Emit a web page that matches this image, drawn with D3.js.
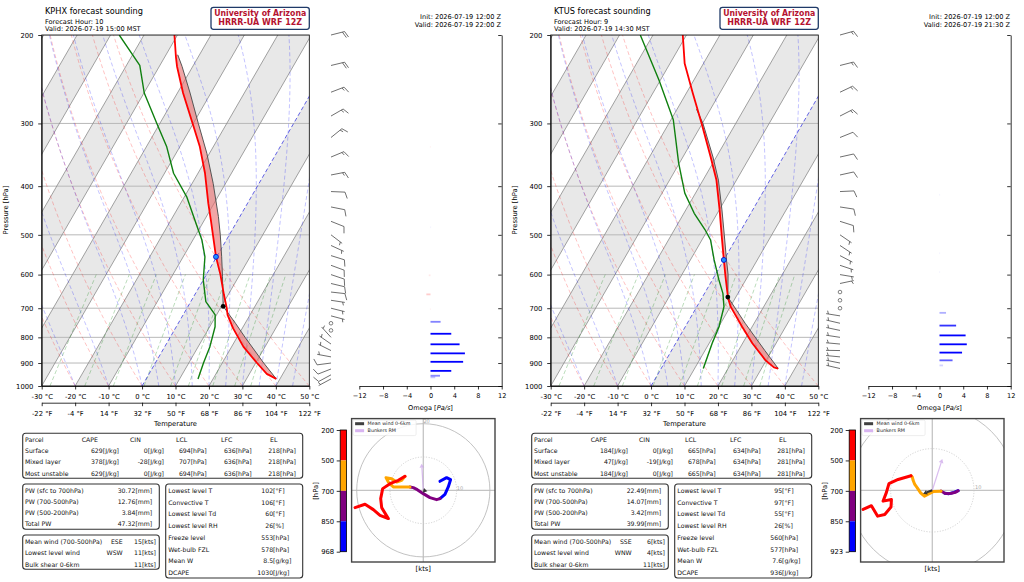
<!DOCTYPE html>
<html>
<head>
<meta charset="utf-8">
<script src="https://cdn.jsdelivr.net/npm/d3@7"></script>
<style>
  body { margin: 0; background: #fff; }
  svg { display: block; }
  text { font-family: "DejaVu Sans", sans-serif; }
</style>
</head>
<body>
<div id="chart"></div>
<script>
// ---------------- KPHX (left panel) ----------------
const phxTitle = "KPHX forecast sounding";
const phxHour = "Forecast Hour: 10";
const phxValidLocal = "Valid: 2026-07-19 15:00 MST";
const phxInit = "Init: 2026-07-19 12:00 Z";
const phxValidZ = "Valid: 2026-07-19 22:00 Z";

const phxPres = [968, 946, 900, 835, 768, 722, 700, 659, 600, 553, 500, 467, 433, 377, 334, 300, 261, 231, 221, 200];
const phxTemp = [38.9, 35.2, 30.4, 23.5, 17.3, 13.3, 11.9, 8.8, 4.2, -0.2, -4.9, -8.1, -11.7, -17.9, -24.0, -30.2, -38.3, -44.7, -46.7, -50.9];
const phxDewP = [968, 900, 835, 762, 722, 679, 615, 553, 512, 485, 420, 377, 334, 300, 261, 230, 200];
const phxDewT = [15.5, 14.4, 13.5, 11.6, 9.6, 4.5, 0.0, -3.5, -7.3, -10.6, -19.3, -27.3, -33.9, -40.9, -49.9, -56.0, -67.4];
const phxParcelP = [968, 900, 800, 750, 694, 606, 553, 500, 460, 395, 344, 300, 261, 231, 219];
const phxParcelT = [38.9, 32.4, 22.4, 17.1, 10.5, 5.2, 1.5, -2.7, -6.4, -13.7, -20.8, -28.5, -36.2, -43.2, -46.5];
const phxLcl = [694, 10.5];
const phxFreeze = [553, -0.2];

const phxWindP = [968, 950, 925, 900, 875, 850, 825, 800, 775, 750, 725, 700, 675, 650, 625, 600, 575, 550, 525, 500, 470, 440, 410, 380, 350, 320, 290, 260, 230, 200];
const phxU = [5.0, 7.0, 8.2, 7.5, 6.5, 5.0, 4.0, 2.0, 0.0, -1.8, -3.0, -4.0, -6.5, -9.0, -10.5, -11.2, -9.5, -8.0, -6.5, -5.5, -7.5, -10.0, -12.2, -12.8, -12.5, -10.5, -13.0, -15.0, -17.5, -20.5];
const phxV = [2.7, 3.8, 3.2, 1.0, -1.2, -2.5, -2.8, -2.2, -1.0, 0.2, 0.8, 1.0, 1.0, 1.0, 2.5, 3.8, 3.5, 2.5, 3.0, 4.2, 3.0, 2.0, 0.5, -2.5, -5.2, -8.5, -7.5, -5.8, -4.2, -5.2];
const phxMeanWind = [1.2, -0.3];
const phxBunkers = [-0.5, 8.0];
const phxHodoTicks = ["200", "500", "700", "850", "968"];

const phxOmegaP = [334, 483, 602, 657, 703, 745, 787, 826, 861, 895, 933, 954, 961];
const phxOmega = [-0.1, 0.1, -0.3, -0.7, -0.1, 1.7, 3.5, 4.9, 5.8, 5.5, 3.5, 1.6, 0.8];

const phxParcelRows = [
  ["Surface", "629[J/kg]", "0[J/kg]", "694[hPa]", "636[hPa]", "218[hPa]"],
  ["Mixed layer", "378[J/kg]", "-28[J/kg]", "707[hPa]", "636[hPa]", "218[hPa]"],
  ["Most unstable", "629[J/kg]", "0[J/kg]", "694[hPa]", "636[hPa]", "218[hPa]"]
];
const phxPwRows = [["PW (sfc to 700hPa)", "30.72[mm]"], ["PW (700-500hPa)", "12.76[mm]"], ["PW (500-200hPa)", "3.84[mm]"], ["Total PW", "47.32[mm]"]];
const phxWindRows = [["Mean wind (700-500hPa)", "ESE", "15[kts]"], ["Lowest level wind", "WSW", "11[kts]"], ["Bulk shear 0-6km", "", "11[kts]"]];
const phxIndexRows = [
  ["Lowest level T", "102", "[°F]"], ["Convective T", "106", "[°F]"], ["Lowest level Td", "60", "[°F]"],
  ["Lowest level RH", "26", "[%]"], ["Freeze level", "553", "[hPa]"], ["Wet-bulb FZL", "578", "[hPa]"],
  ["Mean W", "8.5", "[g/kg]"], ["DCAPE", "1030", "[J/kg]"]
];

// ---------------- KTUS (right panel) ----------------
const tusTitle = "KTUS forecast sounding";
const tusHour = "Forecast Hour: 9";
const tusValidLocal = "Valid: 2026-07-19 14:30 MST";
const tusInit = "Init: 2026-07-19 12:00 Z";
const tusValidZ = "Valid: 2026-07-19 21:30 Z";

const tusPres = [923, 918, 888, 822, 762, 695, 669, 606, 561, 500, 446, 389, 350, 300, 261, 228, 200];
const tusTemp = [35.0, 33.5, 29.7, 22.9, 17.0, 10.1, 7.9, 3.4, 0.0, -5.0, -9.9, -16.0, -21.7, -30.2, -38.1, -45.6, -51.1];
const tusDewP = [923, 822, 762, 695, 654, 615, 561, 512, 488, 453, 413, 360, 295, 246, 200];
const tusDewT = [12.6, 10.9, 10.1, 8.1, 5.5, 2.0, -2.9, -7.4, -10.9, -16.9, -23.2, -30.2, -39.3, -50.4, -63.8];
const tusParcelP = [923, 850, 750, 665, 600, 561, 500, 446, 389, 350, 300, 281];
const tusParcelT = [35.0, 27.9, 17.3, 7.6, 3.8, 0.8, -4.2, -9.2, -15.4, -21.0, -29.8, -34.2];
const tusLcl = [665, 7.6];
const tusFreeze = [561, 0.0];

const tusWindP = [923, 900, 875, 850, 825, 800, 775, 750, 725, 700, 675, 650, 625, 600, 575, 550, 525, 500, 470, 440, 410, 380, 350, 320, 290, 260, 230, 200];
const tusU = [3.0, 4.0, 5.2, 6.2, 5.5, 4.6, 3.8, 3.0, 2.5, 2.1, 0.2, -1.9, -2.8, -3.6, -4.2, -4.6, -4.8, -5.1, -8.2, -10.4, -11.0, -11.8, -9.8, -9.9, -11.4, -13.1, -14.6, -16.6];
const tusV = [-0.7, -0.8, -0.5, -0.1, -0.5, -0.7, -0.8, -0.7, -0.4, -0.2, -0.3, -1.4, -0.6, 0.6, 1.4, 2.4, 3.2, 3.5, 2.6, 1.6, -0.5, -2.6, -2.2, -4.0, -5.8, -6.2, -3.7, -4.6];
const tusMeanWind = [-2.2, -0.8];
const tusBunkers = [2.4, 7.5];
const tusHodoTicks = ["200", "500", "700", "850", "923"];

const tusOmegaP = [416, 544, 593, 715, 758, 793, 826, 858, 889, 910];
const tusOmega = [0.1, 0.1, 0.1, 1.1, 2.8, 4.4, 4.6, 3.8, 2.2, 0.6];

const tusParcelRows = [
  ["Surface", "184[J/kg]", "0[J/kg]", "665[hPa]", "634[hPa]", "281[hPa]"],
  ["Mixed layer", "47[J/kg]", "-19[J/kg]", "678[hPa]", "634[hPa]", "281[hPa]"],
  ["Most unstable", "184[J/kg]", "0[J/kg]", "665[hPa]", "634[hPa]", "281[hPa]"]
];
const tusPwRows = [["PW (sfc to 700hPa)", "22.49[mm]"], ["PW (700-500hPa)", "14.07[mm]"], ["PW (500-200hPa)", "3.42[mm]"], ["Total PW", "39.99[mm]"]];
const tusWindRows = [["Mean wind (700-500hPa)", "SSE", "6[kts]"], ["Lowest level wind", "WNW", "4[kts]"], ["Bulk shear 0-6km", "", "11[kts]"]];
const tusIndexRows = [
  ["Lowest level T", "95", "[°F]"], ["Convective T", "97", "[°F]"], ["Lowest level Td", "55", "[°F]"],
  ["Lowest level RH", "26", "[%]"], ["Freeze level", "560", "[hPa]"], ["Wet-bulb FZL", "577", "[hPa]"],
  ["Mean W", "7.6", "[g/kg]"], ["DCAPE", "936", "[J/kg]"]
];

// shared labels
const parcelHeader = ["Parcel", "CAPE", "CIN", "LCL", "LFC", "EL"];
const hodoColors = ["#0000ff", "#800080", "#ffa500", "#ff0000"];
const logoLines = ["University of Arizona", "HRRR-UA WRF 12Z"];

const stations = [
  { dx: 0, title: phxTitle, hour: phxHour, validLocal: phxValidLocal, init: phxInit, validZ: phxValidZ,
    tP: phxPres, tT: phxTemp, dP: phxDewP, dT: phxDewT, parcelP: phxParcelP, parcelT: phxParcelT,
    lcl: phxLcl, freeze: phxFreeze, windP: phxWindP, u: phxU, v: phxV, meanWind: phxMeanWind,
    bunkers: phxBunkers, hodoTicks: phxHodoTicks, hodoScale: 3.33, omegaP: phxOmegaP, omega: phxOmega,
    parcelRows: phxParcelRows, pwRows: phxPwRows, windRows: phxWindRows, indexRows: phxIndexRows },
  { dx: 509, title: tusTitle, hour: tusHour, validLocal: tusValidLocal, init: tusInit, validZ: tusValidZ,
    tP: tusPres, tT: tusTemp, dP: tusDewP, dT: tusDewT, parcelP: tusParcelP, parcelT: tusParcelT,
    lcl: tusLcl, freeze: tusFreeze, windP: tusWindP, u: tusU, v: tusV, meanWind: tusMeanWind,
    bunkers: tusBunkers, hodoTicks: tusHodoTicks, hodoScale: 4.17, omegaP: tusOmegaP, omega: tusOmega,
    parcelRows: tusParcelRows, pwRows: tusPwRows, windRows: tusWindRows, indexRows: tusIndexRows }
];

// ---------------- helpers ----------------
const TAN30 = Math.tan(Math.PI / 6);
const MONO = "DejaVu Sans Mono";

// linear in log-pressure, ps ordered surface -> top
function interp(ps, vs, p) {
  for (let i = 0; i < ps.length - 1; i++) {
    if (p <= ps[i] && p >= ps[i + 1]) {
      const t = Math.log(ps[i] / p) / Math.log(ps[i] / ps[i + 1]);
      return vs[i] + t * (vs[i + 1] - vs[i]);
    }
  }
  return null;
}

// moist adiabat background lines (saturated lapse rate)
function dTdp(p, T) {
  const es = 6.112 * Math.exp(17.67 * (T - 273.15) / (T - 29.65));
  const rs = 0.6219569 * es / (p - es);
  const Lv = 2.50084e6, Rd = 287.04749;
  return (Rd * T + Lv * rs) / p / (1004.6662 + Lv * Lv * rs * 0.6219569 / (Rd * T * T));
}
function moistAdiabat(t0) {
  const pts = [];
  let T = t0 + 273.15;
  for (let p = 1000; p >= 195; p -= 5) {
    pts.push([p, T - 273.15]);
    const k1 = dTdp(p, T), k2 = dTdp(p - 2.5, T - 2.5 * k1);
    T -= 5 * k2;
  }
  return pts;
}
function mixingLine(w) {
  return d3.range(1000, 599, -10).map(p => {
    const e = p * w / (0.6219569 + w), l = Math.log(e / 6.112);
    return [p, 243.5 * l / (17.67 - l)];
  });
}

function styleAxis(sel, size) {
  sel.attr("font-family", "DejaVu Sans").attr("font-size", size || 6.8);
  sel.selectAll("line,path").attr("stroke-width", 0.8);
}

const svg = d3.select("#chart").append("svg").attr("width", 1024).attr("height", 582);
svg.append("rect").attr("width", 1024).attr("height", 582).attr("fill", "#fff");

stations.forEach(drawPanel);

function drawPanel(st) {
  const g = svg.append("g").attr("transform", `translate(${st.dx},0)`);
  const x = d3.scaleLinear().domain([-30, 50]).range([41.7, 309.3]);
  const y = d3.scaleLog().domain([1000, 200]).range([386, 35]);
  const sx = (T, p) => x(T) + (y(1000) - y(p)) * TAN30;
  const line = d3.line().x(d => sx(d[1], d[0])).y(d => y(d[0]));

  // ---- header ----
  g.append("text").attr("x", 45).attr("y", 11).attr("dominant-baseline", "central")
    .attr("font-size", 8.2).text(st.title);
  g.append("text").attr("x", 45).attr("y", 21.7).attr("dominant-baseline", "central")
    .attr("font-size", 6.6).text(st.hour);
  g.append("text").attr("x", 45).attr("y", 29.4).attr("dominant-baseline", "central")
    .attr("font-size", 6.6).text(st.validLocal);
  g.append("text").attr("x", 501).attr("y", 17).attr("text-anchor", "end").attr("dominant-baseline", "central")
    .attr("font-size", 6.6).text(st.init);
  g.append("text").attr("x", 501).attr("y", 25).attr("text-anchor", "end").attr("dominant-baseline", "central")
    .attr("font-size", 6.6).text(st.validZ);
  g.append("rect").attr("x", 211).attr("y", 7.3).attr("width", 98.3).attr("height", 22).attr("rx", 2.5)
    .attr("fill", "#fff").attr("stroke", "#1f3a68").attr("stroke-width", 1.3);
  logoLines.forEach((t, i) => {
    g.append("text").attr("x", 260.2).attr("y", 13.4 + i * 9).attr("text-anchor", "middle")
      .attr("dominant-baseline", "central").attr("font-family", "'Liberation Serif', 'DejaVu Serif', serif")
      .attr("font-weight", "bold").attr("font-size", 8.6).attr("fill", "#b5122f")
      .attr("textLength", i === 0 ? 92 : 84).attr("lengthAdjust", "spacingAndGlyphs").text(t);
  });

  // ---- skew-T background ----
  const clipId = "skewclip" + st.dx;
  g.append("clipPath").attr("id", clipId).append("rect")
    .attr("x", 41.7).attr("y", 35).attr("width", 267.6).attr("height", 351);
  const plot = g.append("g").attr("clip-path", `url(#${clipId})`);

  // shade every other 10-degree isotherm band
  for (let T = -140; T < 50; T += 20) {
    const pts = [[sx(T, 1000), y(1000)], [sx(T + 10, 1000), y(1000)], [sx(T + 10, 200), y(200)], [sx(T, 200), y(200)]];
    plot.append("polygon").attr("points", pts.join(" ")).attr("fill", "#e8e8e8");
  }
  // pressure grid
  d3.range(200, 1001, 100).forEach(p => {
    plot.append("line").attr("x1", 41.7).attr("x2", 309.3).attr("y1", y(p)).attr("y2", y(p))
      .attr("stroke", "#b8b8b8").attr("stroke-width", 1);
  });
  // isotherms
  for (let T = -130; T <= 50; T += 10) {
    if (T === 0) continue;
    plot.append("line").attr("x1", sx(T, 1000)).attr("y1", y(1000)).attr("x2", sx(T, 200)).attr("y2", y(200))
      .attr("stroke", "#8a8a8a").attr("stroke-width", 0.8);
  }
  // dry adiabats
  d3.range(-30, 51, 10).forEach(t0 => {
    const pts = d3.range(1000, 199, -10).map(p => [p, (t0 + 273.15) * Math.pow(p / 1000, 0.28571) - 273.15]);
    plot.append("path").attr("d", line(pts)).attr("fill", "none").attr("stroke", "red")
      .attr("stroke-opacity", 0.3).attr("stroke-width", 0.8).attr("stroke-dasharray", "4,2.5");
  });
  // moist adiabats
  [-30, -20, -10].concat(d3.range(0, 51, 5)).forEach(t0 => {
    plot.append("path").attr("d", line(moistAdiabat(t0))).attr("fill", "none").attr("stroke", "blue")
      .attr("stroke-opacity", 0.3).attr("stroke-width", 0.8).attr("stroke-dasharray", "4,2.5");
  });
  // mixing ratio lines
  [0.0004, 0.001, 0.002, 0.004, 0.007, 0.01, 0.016, 0.024, 0.032].forEach(w => {
    plot.append("path").attr("d", line(mixingLine(w))).attr("fill", "none").attr("stroke", "green")
      .attr("stroke-opacity", 0.35).attr("stroke-width", 0.8).attr("stroke-dasharray", "4,2.5");
  });
  // 0 degC isotherm
  plot.append("line").attr("x1", sx(0, 1000)).attr("y1", y(1000)).attr("x2", sx(0, 200)).attr("y2", y(200))
    .attr("stroke", "#3030e0").attr("stroke-opacity", 0.75).attr("stroke-width", 1).attr("stroke-dasharray", "4,2.5");

  // ---- CAPE shading + profiles ----
  const pTop = st.parcelP[st.parcelP.length - 1];
  const capeData = d3.range(st.parcelP[0], pTop, -1).concat([pTop]).map(p => {
    const te = interp(st.tP, st.tT, p), tp = interp(st.parcelP, st.parcelT, p);
    return [p, te, Math.max(te, tp)];
  }).filter(d => d[1] !== null && !isNaN(d[2]));
  plot.append("path")
    .attr("d", d3.area().y(d => y(d[0])).x0(d => sx(d[1], d[0])).x1(d => sx(d[2], d[0]))(capeData))
    .attr("fill", "#e86a6a").attr("fill-opacity", 0.6);
  plot.append("path").attr("d", line(st.parcelP.map((p, i) => [p, st.parcelT[i]])))
    .attr("fill", "none").attr("stroke", "#555").attr("stroke-width", 1);
  plot.append("path").attr("d", line(st.tP.map((p, i) => [p, st.tT[i]])))
    .attr("fill", "none").attr("stroke", "#ff0000").attr("stroke-width", 1.8).attr("stroke-linejoin", "round");
  plot.append("path").attr("d", line(st.dP.map((p, i) => [p, st.dT[i]])))
    .attr("fill", "none").attr("stroke", "#108010").attr("stroke-width", 1.4).attr("stroke-linejoin", "round");
  plot.append("circle").attr("cx", sx(st.freeze[1], st.freeze[0])).attr("cy", y(st.freeze[0])).attr("r", 2.5)
    .attr("fill", "#1e90ff").attr("stroke", "#0000cc").attr("stroke-width", 0.8);
  plot.append("circle").attr("cx", sx(st.lcl[1], st.lcl[0])).attr("cy", y(st.lcl[0])).attr("r", 2.4)
    .attr("fill", "#000");

  g.append("rect").attr("x", 41.7).attr("y", 35).attr("width", 267.6).attr("height", 351)
    .attr("fill", "none").attr("stroke", "#000").attr("stroke-width", 0.8);

  // ---- skew-T axes ----
  const yAxis = g.append("g").attr("transform", "translate(41.7,0)")
    .call(d3.axisLeft(y).tickValues(d3.range(200, 1001, 100)).tickFormat(d3.format("d"))
      .tickSize(3.5).tickPadding(4.8).tickSizeOuter(0));
  styleAxis(yAxis);
  const cAxis = g.append("g").attr("transform", "translate(0,386)")
    .call(d3.axisBottom(x).tickValues(d3.range(-30, 51, 10)).tickFormat(d => `${d} °C`)
      .tickSize(3.5).tickPadding(4.8).tickSizeOuter(0));
  styleAxis(cAxis);
  const fAxis = g.append("g").attr("transform", "translate(0,402.7)")
    .call(d3.axisBottom(x).tickValues(d3.range(-30, 51, 10)).tickFormat(d => `${Math.round(d * 1.8 + 32)} °F`)
      .tickSize(3.5).tickPadding(4.8).tickSizeOuter(0));
  styleAxis(fAxis);
  g.append("text").attr("x", 175.5).attr("y", 424.3).attr("text-anchor", "middle").attr("dominant-baseline", "central")
    .attr("font-size", 6.8).text("Temperature");
  g.append("text").attr("transform", "translate(6,210) rotate(-90)").attr("text-anchor", "middle")
    .attr("dominant-baseline", "central").attr("font-size", 6.8).text("Pressure [hPa]");

  // ---- wind barbs ----
  const barbs = g.append("g");
  st.windP.forEach((p, i) => drawBarb(barbs, 331, y(p), st.u[i], st.v[i]));

  // ---- omega ----
  const xo = d3.scaleLinear().domain([-12, 12]).range([359.3, 501.7]);
  const omg = g.append("g");
  st.omegaP.forEach((p, i) => {
    const w = st.omega[i];
    omg.append("rect").attr("x", xo(Math.min(0, w))).attr("width", Math.abs(xo(w) - xo(0)))
      .attr("y", y(p) - 0.9).attr("height", 1.8)
      .attr("fill", w >= 0 ? "#0000ff" : "#ff0000")
      .attr("fill-opacity", Math.min(1, Math.max(0.08, Math.abs(w) / 3.5)));
  });
  const oAxis = g.append("g").attr("transform", "translate(0,386)")
    .call(d3.axisBottom(xo).tickValues(d3.range(-12, 13, 4)).tickFormat(d => d < 0 ? "\u2212" + Math.abs(d) : d)
      .tickSize(3.5).tickPadding(4.3).tickSizeOuter(0));
  styleAxis(oAxis, 6.6);
  const oyAxis = g.append("g").attr("transform", "translate(501.7,0)")
    .call(d3.axisLeft(y).tickValues(d3.range(200, 1001, 100)).tickFormat("").tickSize(3.5).tickSizeOuter(0));
  styleAxis(oyAxis);
  const om = g.append("text").attr("x", 430.5).attr("y", 408.3).attr("text-anchor", "middle")
    .attr("dominant-baseline", "central").attr("font-size", 6.6);
  om.append("tspan").text("Omega [");
  om.append("tspan").attr("font-style", "italic").text("Pa/s");
  om.append("tspan").text("]");

  drawTables(g, st);
  drawHodograph(g, st);
}

// wind barb: staff points to where the wind comes from, feathers on the right-hand side
function drawBarb(g, bx, by, u, v) {
  const L = 14, col = "#4a4a4a";
  const m = Math.hypot(u, v);
  const spd = Math.round(m / 5) * 5;
  if (spd === 0) {
    g.append("circle").attr("cx", bx).attr("cy", by).attr("r", 1.8)
      .attr("fill", "none").attr("stroke", col).attr("stroke-width", 0.7);
    return;
  }
  const dx = -u / m, dy = v / m;
  const rx = -v / m, ry = -u / m;
  const P = t => [bx + dx * t, by + dy * t];
  const H = 0.45 * L, sl = 0.18 * L, gap = 0.16 * L;
  let d = `M${bx},${by}L${P(L)}`;
  let pos = L;
  const nFull = Math.floor(spd / 10), half = spd % 10 >= 5;
  if (nFull === 0 && half) pos -= gap;
  for (let k = 0; k < nFull; k++) {
    const a = P(pos), b = P(pos + sl);
    d += `M${a}L${b[0] + rx * H},${b[1] + ry * H}`;
    pos -= gap;
  }
  if (half) {
    const a = P(pos), b = P(pos + sl / 2);
    d += `M${a}L${b[0] + rx * H / 2},${b[1] + ry * H / 2}`;
  }
  g.append("path").attr("d", d).attr("fill", "none").attr("stroke", col).attr("stroke-width", 0.8);
}

function tableBox(g, x, y, w, h) {
  g.append("rect").attr("x", x).attr("y", y).attr("width", w).attr("height", h).attr("rx", 3)
    .attr("fill", "#fff").attr("stroke", "#333").attr("stroke-width", 1.1);
}
function monoText(g, x, y, t, anchor) {
  g.append("text").attr("x", x).attr("y", y).attr("text-anchor", anchor || "start")
    .attr("dominant-baseline", "central").attr("font-family", MONO).attr("font-size", 6.2)
    .attr("fill", "#111").attr("xml:space", "preserve").text(t);
}

function drawTables(g, st) {
  // parcel table
  tableBox(g, 22.7, 433.3, 280, 45);
  const headX = [25, 81.7, 130, 176, 221, 270];
  const valX = [119, 164, 206.7, 251.7, 296];
  parcelHeader.forEach((h, i) => monoText(g, headX[i], 439, h));
  st.parcelRows.forEach((r, j) => {
    const yy = 450.3 + j * 11.35;
    monoText(g, 25, yy, r[0]);
    r.slice(1).forEach((v, i) => monoText(g, valX[i], yy, v, "end"));
  });
  // precipitable water
  tableBox(g, 22.7, 484, 136.6, 45.3);
  st.pwRows.forEach((r, j) => {
    const yy = 490.3 + j * 11.23;
    monoText(g, 25, yy, r[0]);
    monoText(g, 152.3, yy, r[1], "end");
  });
  // winds
  tableBox(g, 22.7, 535, 136.6, 34.3);
  st.windRows.forEach((r, j) => {
    const yy = 541.3 + j * 11.35;
    monoText(g, 25, yy, r[0]);
    monoText(g, 122.7, yy, r[1], "end");
    monoText(g, 156, yy, r[2], "end");
  });
  // indices
  tableBox(g, 165.7, 484, 137, 94);
  st.indexRows.forEach((r, j) => {
    const yy = 490.5 + j * 11.7;
    monoText(g, 168.3, yy, r[0]);
    monoText(g, 273.1, yy, r[1], "end");
    monoText(g, 273.1, yy, r[2]);
  });
}

function drawHodograph(g, st) {
  const cx = 423.3, cy = 490.3, half = 71.7;
  const lim = half / st.hodoScale;
  const hx = d3.scaleLinear().domain([-lim, lim]).range([cx - half, cx + half]);
  const hy = d3.scaleLinear().domain([-lim, lim]).range([cy + half, cy - half]);
  const clipId = "hodoclip" + st.dx;
  g.append("clipPath").attr("id", clipId).append("rect")
    .attr("x", cx - half).attr("y", cy - half).attr("width", 2 * half).attr("height", 2 * half);
  g.append("rect").attr("x", cx - half).attr("y", cy - half).attr("width", 2 * half).attr("height", 2 * half)
    .attr("fill", "#fff");
  const h = g.append("g").attr("clip-path", `url(#${clipId})`);

  h.append("line").attr("x1", cx - half).attr("x2", cx + half).attr("y1", hy(0)).attr("y2", hy(0))
    .attr("stroke", "#c4c4c4").attr("stroke-width", 1.3);
  h.append("line").attr("y1", cy - half).attr("y2", cy + half).attr("x1", hx(0)).attr("x2", hx(0))
    .attr("stroke", "#c4c4c4").attr("stroke-width", 1.3);
  h.append("circle").attr("cx", hx(0)).attr("cy", hy(0)).attr("r", hx(10) - hx(0))
    .attr("fill", "none").attr("stroke", "#c8c8c8").attr("stroke-width", 0.8).attr("stroke-dasharray", "1.2,1.5");
  h.append("circle").attr("cx", hx(0)).attr("cy", hy(0)).attr("r", hx(20) - hx(0))
    .attr("fill", "none").attr("stroke", "#bbb").attr("stroke-width", 0.9);
  h.append("text").attr("x", hx(11)).attr("y", hy(0.7)).attr("text-anchor", "middle").attr("dominant-baseline", "central")
    .attr("font-size", 5).attr("fill", "#aaa").text("10");
  h.append("text").attr("x", hx(1)).attr("y", hy(20.9)).attr("text-anchor", "middle").attr("dominant-baseline", "central")
    .attr("font-size", 5).attr("fill", "#aaa").text("20");

  // hodograph trace coloured by layer
  const layers = [[1100, 850], [850, 700], [700, 500], [500, 0]];
  const hl = d3.line().x(d => hx(d[0])).y(d => hy(d[1]));
  layers.forEach((lay, k) => {
    const pts = st.windP.map((p, i) => [st.u[i], st.v[i], p]).filter(d => d[2] <= lay[0] && d[2] >= lay[1]);
    h.append("path").attr("d", hl(pts)).attr("fill", "none").attr("stroke", hodoColors[k])
      .attr("stroke-width", 3).attr("stroke-linecap", "round").attr("stroke-linejoin", "round");
  });

  // Bunkers right mover and mean wind arrows
  drawArrow(h, hx(0), hy(0), hx(st.bunkers[0]), hy(st.bunkers[1]), "#c9a0e8", 0.7, 1.2, 4);
  drawArrow(h, hx(0), hy(0), hx(st.meanWind[0]), hy(st.meanWind[1]), "#222", 0.9, 2.2, 4);

  // legend
  g.append("rect").attr("x", cx - half + 1.5).attr("y", cy - half + 1.5).attr("width", 63).attr("height", 15.5)
    .attr("rx", 1.5).attr("fill", "#fff").attr("fill-opacity", 0.85).attr("stroke", "#ddd").attr("stroke-width", 0.5);
  [["Mean wind 0-6km", "#404040"], ["Bunkers RM", "#d8b4f0"]].forEach((e, i) => {
    g.append("rect").attr("x", cx - half + 3.5).attr("y", cy - half + 3.6 + i * 7).attr("width", 9).attr("height", 3)
      .attr("fill", e[1]);
    g.append("text").attr("x", cx - half + 16).attr("y", cy - half + 5.2 + i * 7).attr("dominant-baseline", "central")
      .attr("font-size", 4.8).attr("fill", "#222").text(e[0]);
  });

  g.append("rect").attr("x", cx - half).attr("y", cy - half).attr("width", 2 * half).attr("height", 2 * half)
    .attr("fill", "none").attr("stroke", "#444").attr("stroke-width", 1.4);
  g.append("text").attr("x", cx).attr("y", 568.8).attr("text-anchor", "middle").attr("dominant-baseline", "central")
    .attr("font-size", 6.8).text("[kts]");

  // pressure colour bar
  const cb = d3.scalePoint().domain(st.hodoTicks).range([430, 551.7]);
  st.hodoTicks.slice(0, 4).forEach((t, i) => {
    g.append("rect").attr("x", 340.2).attr("width", 6.3).attr("y", cb(t))
      .attr("height", cb(st.hodoTicks[i + 1]) - cb(t)).attr("fill", hodoColors[3 - i]);
  });
  g.append("rect").attr("x", 340.2).attr("y", 430).attr("width", 6.3).attr("height", 121.7)
    .attr("fill", "none").attr("stroke", "#000").attr("stroke-width", 0.8);
  const cbAxis = g.append("g").attr("transform", "translate(340.2,0)")
    .call(d3.axisLeft(cb).tickSize(3.5).tickPadding(2.5).tickSizeOuter(0));
  cbAxis.select(".domain").remove();
  styleAxis(cbAxis);
  g.append("text").attr("transform", "translate(316,491) rotate(-90)").attr("text-anchor", "middle")
    .attr("dominant-baseline", "central").attr("font-size", 6.8).text("[hPa]");
}

function drawArrow(g, x1, y1, x2, y2, col, op, w, head) {
  const a = Math.atan2(y2 - y1, x2 - x1);
  const bx = x2 - head * Math.cos(a), by = y2 - head * Math.sin(a);
  g.append("line").attr("x1", x1).attr("y1", y1).attr("x2", bx).attr("y2", by)
    .attr("stroke", col).attr("stroke-opacity", op).attr("stroke-width", w);
  const n = [-Math.sin(a), Math.cos(a)];
  const pts = [[x2, y2], [bx + n[0] * head * 0.6, by + n[1] * head * 0.6], [bx - n[0] * head * 0.6, by - n[1] * head * 0.6]];
  g.append("polygon").attr("points", pts.join(" ")).attr("fill", col).attr("fill-opacity", op);
}
</script>
</body>
</html>
